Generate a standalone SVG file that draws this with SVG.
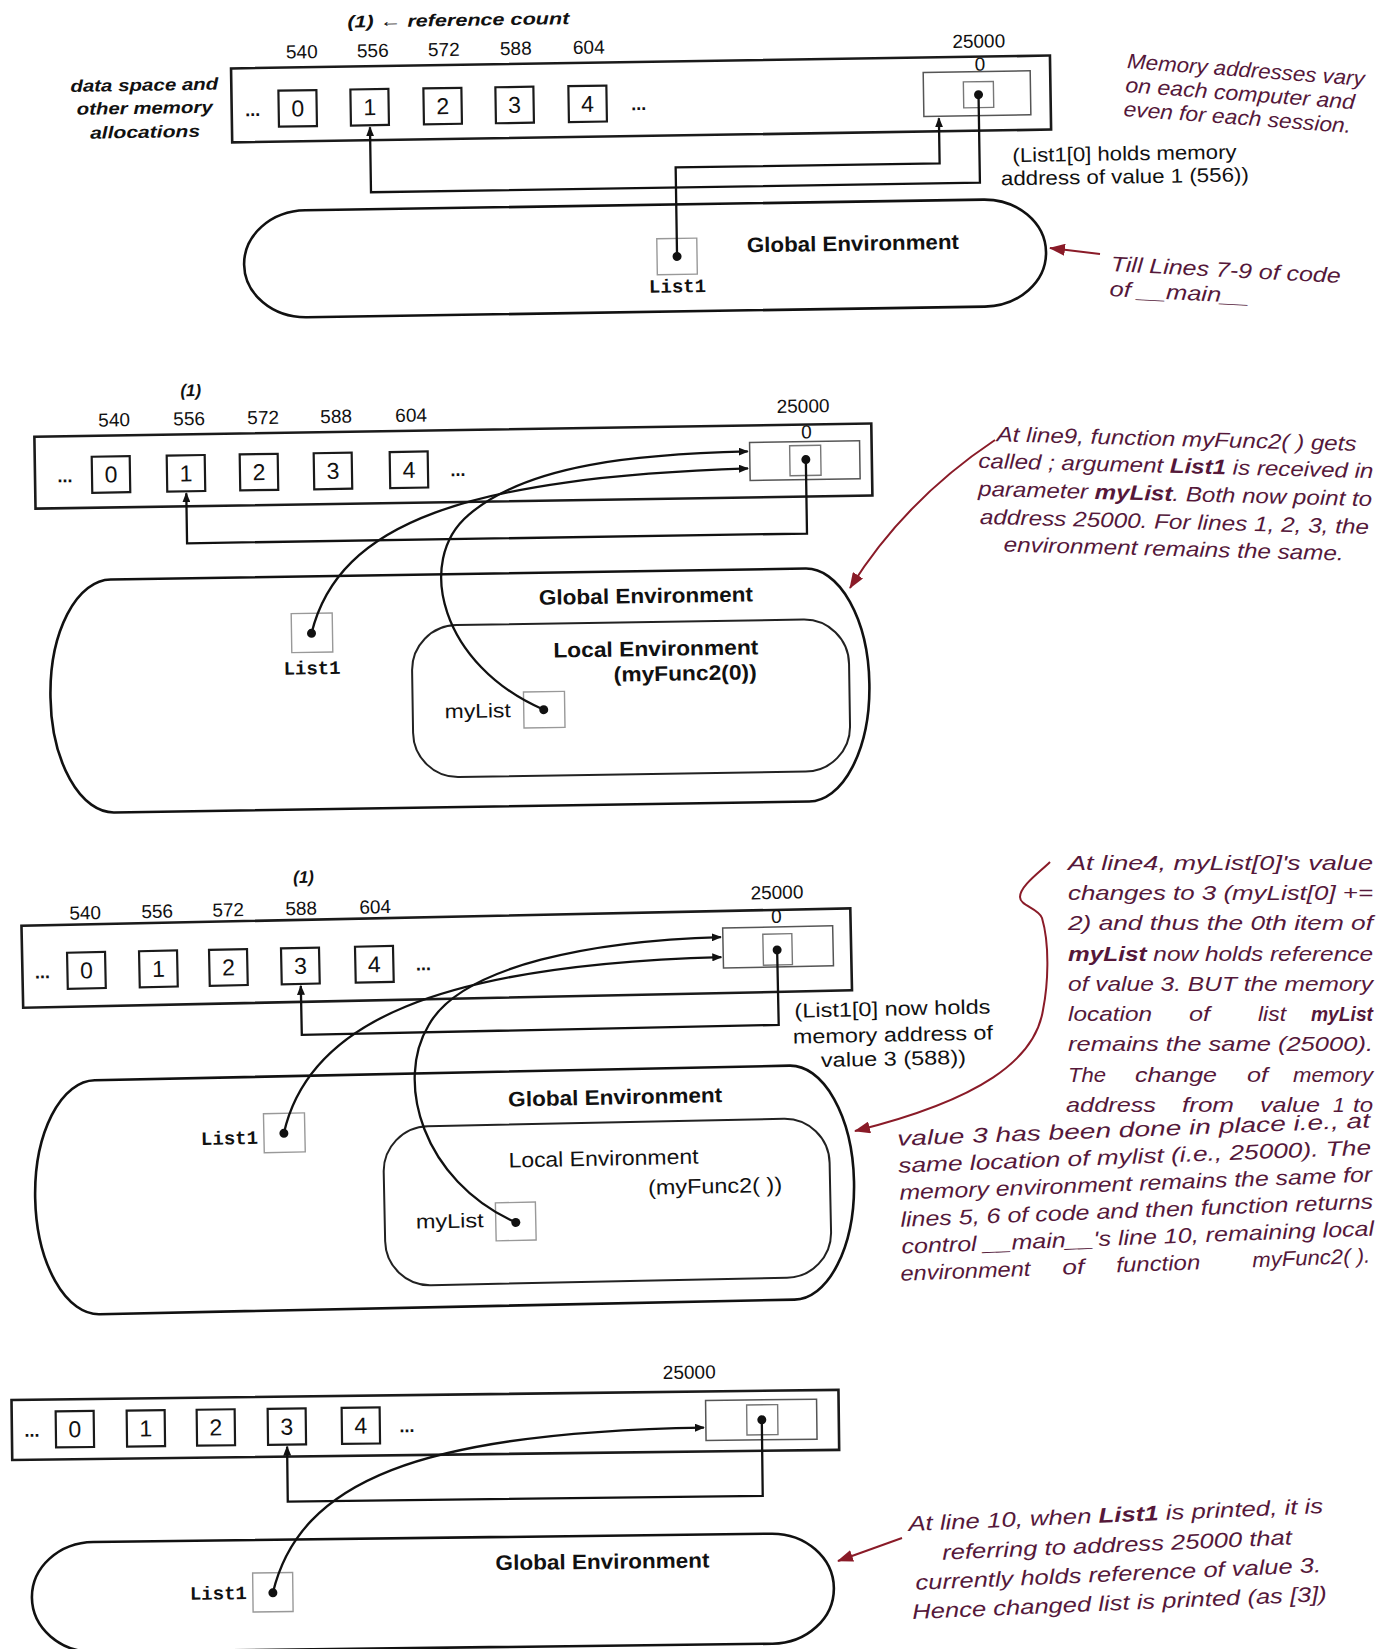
<svg xmlns="http://www.w3.org/2000/svg" width="1384" height="1649" viewBox="0 0 1384 1649">
<style>
.mem{fill:none;stroke:#1a1a1a;stroke-width:2.6}
.cell{fill:none;stroke:#1a1a1a;stroke-width:2.2}
.digit{font-family:"Liberation Sans",Arial,sans-serif;font-size:23px;text-anchor:middle;fill:#111}
.addr{font-family:"Liberation Sans",Arial,sans-serif;font-size:19px;text-anchor:middle;fill:#111}
.dots{font-family:"Liberation Sans",Arial,sans-serif;font-size:18px;font-weight:bold;text-anchor:middle;fill:#111}
.box{fill:none;stroke:#555;stroke-width:1.5}
.ibox{fill:none;stroke:#777;stroke-width:1.4}
.var{fill:none;stroke:#999;stroke-width:1.4}
.env{fill:none;stroke:#111;stroke-width:2.6}
.lenv{fill:none;stroke:#222;stroke-width:2}
.envt{font-family:"Liberation Sans",Arial,sans-serif;font-size:21px;font-weight:bold;text-anchor:middle;fill:#111}
.lenvn{font-family:"Liberation Sans",Arial,sans-serif;font-size:21px;text-anchor:middle;fill:#111}
.mono{font-family:"Liberation Mono","Courier New",monospace;font-size:19px;font-weight:bold;fill:#111}
.lbl{font-family:"Liberation Sans",Arial,sans-serif;font-size:20px;fill:#111}
.side{font-family:"Liberation Sans",Arial,sans-serif;font-size:17px;font-weight:bold;font-style:italic;text-anchor:middle;fill:#111}
.note{font-family:"Liberation Sans",Arial,sans-serif;font-size:21px;font-style:italic;fill:#55183a}
.conn{fill:none;stroke:#111;stroke-width:2.3}
.red{fill:none;stroke:#8a1b28;stroke-width:2}
.dot{fill:#111}
</style>
<defs>
<marker id="ah" markerUnits="userSpaceOnUse" markerWidth="10" markerHeight="8" refX="9" refY="4" orient="auto"><path d="M0,0 L10,4 L0,8 z" fill="#111"/></marker>
<marker id="rh" markerUnits="userSpaceOnUse" markerWidth="16" markerHeight="12" refX="15" refY="6" orient="auto"><path d="M0,0 L16,6 L0,12 z" fill="#8a1b28"/></marker>
</defs>
<rect width="1384" height="1649" fill="#ffffff"/>

<!-- ================= PANEL 1 ================= -->
<g id="p1-memory" transform="rotate(-0.9 640 190)">
  <text class="side" x="461" y="23" font-size="18" textLength="222" lengthAdjust="spacingAndGlyphs">(1) ← reference count</text>
  <text class="side" x="146" y="83" textLength="148" lengthAdjust="spacingAndGlyphs">data space and</text>
  <text class="side" x="146" y="106" textLength="136" lengthAdjust="spacingAndGlyphs">other memory</text>
  <text class="side" x="146" y="130" textLength="110" lengthAdjust="spacingAndGlyphs">allocations</text>
  <rect class="mem" x="233" y="62" width="819" height="74"/>
  <text class="dots" x="254" y="110">...</text>
  <text class="dots" x="640" y="110">...</text>
  <text class="addr" x="304" y="53">540</text><text class="addr" x="375" y="53">556</text><text class="addr" x="446" y="53">572</text><text class="addr" x="518" y="53">588</text><text class="addr" x="591" y="53">604</text>
</g>
<g id="p1-cell-0" transform="rotate(-0.9 640 190)"><rect class="cell" x="280" y="85" width="38" height="36"/><text class="digit" x="299" y="111">0</text></g>
<g id="p1-cell-1" transform="rotate(-0.9 640 190)"><rect class="cell" x="352" y="85" width="38" height="36"/><text class="digit" x="371" y="111">1</text></g>
<g id="p1-cell-2" transform="rotate(-0.9 640 190)"><rect class="cell" x="425" y="85" width="38" height="36"/><text class="digit" x="444" y="111">2</text></g>
<g id="p1-cell-3" transform="rotate(-0.9 640 190)"><rect class="cell" x="497" y="85" width="38" height="36"/><text class="digit" x="516" y="111">3</text></g>
<g id="p1-cell-4" transform="rotate(-0.9 640 190)"><rect class="cell" x="570" y="85" width="38" height="36"/><text class="digit" x="589" y="111">4</text></g>
<g id="p1-list-25000" transform="rotate(-0.9 640 190)">
  <text class="addr" x="981" y="53">25000</text>
  <text class="addr" x="982" y="76" font-size="15">0</text>
  <rect class="box" x="925" y="77" width="107" height="44"/>
  <rect class="ibox" x="965" y="87" width="30" height="26"/>
  <circle class="dot" cx="980" cy="100" r="4.5"/>
  <text class="lbl" x="1125" y="168" text-anchor="middle" textLength="224" lengthAdjust="spacingAndGlyphs">(List1[0] holds memory</text>
  <text class="lbl" x="1125" y="191" text-anchor="middle" textLength="248" lengthAdjust="spacingAndGlyphs">address of value 1 (556))</text>
</g>
<g id="p1-global-env" transform="rotate(-0.9 640 190)">
  <rect class="env" x="243" y="205" width="802" height="107" rx="62" ry="53.5"/>
  <text class="envt" x="852" y="254" textLength="212" lengthAdjust="spacingAndGlyphs">Global Environment</text>
</g>
<g id="p1-var-list1" transform="rotate(-0.9 640 190)">
  <rect class="var" x="656" y="239" width="40" height="36"/>
  <circle class="dot" cx="676" cy="257" r="4.5"/>
  <text class="mono" x="676" y="293" text-anchor="middle">List1</text>
</g>
<g id="p1-notes">
  <g class="note" transform="rotate(4.3 1125 92)">
    <text x="1125" y="68" textLength="238" lengthAdjust="spacingAndGlyphs">Memory addresses vary</text>
    <text x="1125" y="92" textLength="230" lengthAdjust="spacingAndGlyphs">on each computer and</text>
    <text x="1125" y="116" textLength="228" lengthAdjust="spacingAndGlyphs">even for each session.</text>
  </g>
  <g class="note" transform="rotate(3 1110 282)">
    <text x="1110" y="271" textLength="230" lengthAdjust="spacingAndGlyphs">Till Lines 7-9 of code</text>
    <text x="1110" y="296" textLength="140" lengthAdjust="spacingAndGlyphs">of __main__</text>
  </g>
</g>

<!-- ================= PANEL 2 ================= -->
<g id="p2-memory" transform="rotate(-0.9 460 600)">
  <text class="side" x="194" y="392" font-style="normal" font-size="18">(1)</text>
  <rect class="mem" x="37" y="430" width="837" height="72"/>
  <text class="dots" x="67" y="476">...</text>
  <text class="dots" x="460" y="476">...</text>
  <text class="addr" x="117" y="421">540</text><text class="addr" x="192" y="421">556</text><text class="addr" x="266" y="421">572</text><text class="addr" x="339" y="421">588</text><text class="addr" x="414" y="421">604</text>
</g>
<g id="p2-cell-0" transform="rotate(-0.9 460 600)"><rect class="cell" x="94" y="451" width="38" height="36"/><text class="digit" x="113" y="477">0</text></g>
<g id="p2-cell-1" transform="rotate(-0.9 460 600)"><rect class="cell" x="169" y="451" width="38" height="36"/><text class="digit" x="188" y="477">1</text></g>
<g id="p2-cell-2" transform="rotate(-0.9 460 600)"><rect class="cell" x="242" y="451" width="38" height="36"/><text class="digit" x="261" y="477">2</text></g>
<g id="p2-cell-3" transform="rotate(-0.9 460 600)"><rect class="cell" x="316" y="451" width="38" height="36"/><text class="digit" x="335" y="477">3</text></g>
<g id="p2-cell-4" transform="rotate(-0.9 460 600)"><rect class="cell" x="392" y="451" width="38" height="36"/><text class="digit" x="411" y="477">4</text></g>
<g id="p2-list-25000" transform="rotate(-0.9 460 600)">
  <text class="addr" x="806" y="418">25000</text>
  <text class="addr" x="809" y="444" font-size="15">0</text>
  <rect class="box" x="752" y="447" width="110" height="38"/>
  <rect class="ibox" x="792" y="451" width="31" height="30"/>
  <circle class="dot" cx="808" cy="465" r="4.5"/>
</g>
<g id="p2-global-env" transform="rotate(-0.9 460 600)">
  <rect class="env" x="49" y="574" width="819" height="233" rx="62" ry="116"/>
  <text class="envt" x="646" y="606" textLength="214" lengthAdjust="spacingAndGlyphs">Global Environment</text>
</g>
<g id="p2-var-list1" transform="rotate(-0.9 460 600)">
  <rect class="var" x="291" y="611" width="41" height="39"/>
  <circle class="dot" cx="311" cy="631" r="4.5"/>
  <text class="mono" x="311" y="672" text-anchor="middle">List1</text>
</g>
<g id="p2-local-env" transform="rotate(-0.9 460 600)">
  <rect class="lenv" x="411" y="625" width="437" height="152" rx="45" ry="45"/>
  <text class="envt" x="655" y="659" textLength="205" lengthAdjust="spacingAndGlyphs">Local Environment</text>
  <text class="envt" x="684" y="684" textLength="143" lengthAdjust="spacingAndGlyphs">(myFunc2(0))</text>
</g>
<g id="p2-var-mylist" transform="rotate(-0.9 460 600)">
  <text class="lbl" x="509" y="718" text-anchor="end" textLength="66" lengthAdjust="spacingAndGlyphs">myList</text>
  <rect class="var" x="522" y="693" width="41" height="36"/>
  <circle class="dot" cx="542" cy="711" r="4.5"/>
</g>
<g id="p2-notes" class="note" transform="rotate(1.5 1175 500)">
  <text x="1175" y="446" text-anchor="middle" textLength="360" lengthAdjust="spacingAndGlyphs">At line9, function myFunc2( ) gets</text>
  <text x="1175" y="473" text-anchor="middle" textLength="395" lengthAdjust="spacingAndGlyphs">called ; argument <tspan font-weight="bold">List1</tspan> is received in</text>
  <text x="1175" y="501" text-anchor="middle" textLength="394" lengthAdjust="spacingAndGlyphs">parameter <tspan font-weight="bold">myList</tspan>. Both now point to</text>
  <text x="1175" y="529" text-anchor="middle" textLength="389" lengthAdjust="spacingAndGlyphs">address 25000. For lines 1, 2, 3, the</text>
  <text x="1175" y="556" text-anchor="middle" textLength="340" lengthAdjust="spacingAndGlyphs">environment remains the same.</text>
</g>

<!-- ================= PANEL 3 ================= -->
<g id="p3-memory" transform="rotate(-1.2 440 1090)">
  <text class="side" x="308" y="880" font-style="normal" font-size="18">(1)</text>
  <rect class="mem" x="25" y="917" width="829" height="82"/>
  <text class="dots" x="45" y="970">...</text>
  <text class="dots" x="426" y="970">...</text>
  <text class="addr" x="89" y="912">540</text><text class="addr" x="161" y="912">556</text><text class="addr" x="232" y="912">572</text><text class="addr" x="305" y="912">588</text><text class="addr" x="379" y="912">604</text>
</g>
<g id="p3-cell-0" transform="rotate(-1.2 440 1090)"><rect class="cell" x="70" y="945" width="38" height="36"/><text class="digit" x="89" y="971">0</text></g>
<g id="p3-cell-1" transform="rotate(-1.2 440 1090)"><rect class="cell" x="142" y="945" width="38" height="36"/><text class="digit" x="161" y="971">1</text></g>
<g id="p3-cell-2" transform="rotate(-1.2 440 1090)"><rect class="cell" x="212" y="945" width="38" height="36"/><text class="digit" x="231" y="971">2</text></g>
<g id="p3-cell-3" transform="rotate(-1.2 440 1090)"><rect class="cell" x="284" y="945" width="38" height="36"/><text class="digit" x="303" y="971">3</text></g>
<g id="p3-cell-4" transform="rotate(-1.2 440 1090)"><rect class="cell" x="358" y="945" width="38" height="36"/><text class="digit" x="377" y="971">4</text></g>
<g id="p3-list-25000" transform="rotate(-1.2 440 1090)">
  <text class="addr" x="781" y="906">25000</text>
  <text class="addr" x="780" y="930" font-size="15">0</text>
  <rect class="box" x="726" y="934" width="110" height="40"/>
  <rect class="ibox" x="766" y="941" width="29" height="31"/>
  <circle class="dot" cx="780" cy="957" r="4.5"/>
  <text class="lbl" x="894" y="1025" text-anchor="middle" textLength="196" lengthAdjust="spacingAndGlyphs">(List1[0] now holds</text>
  <text class="lbl" x="894" y="1051" text-anchor="middle" textLength="200" lengthAdjust="spacingAndGlyphs">memory address of</text>
  <text class="lbl" x="894" y="1075" text-anchor="middle" textLength="145" lengthAdjust="spacingAndGlyphs">value 3 (588))</text>
</g>
<g id="p3-global-env" transform="rotate(-1.2 440 1090)">
  <rect class="env" x="33" y="1073" width="819" height="234" rx="62" ry="117"/>
  <text class="envt" x="615" y="1108" textLength="214" lengthAdjust="spacingAndGlyphs">Global Environment</text>
</g>
<g id="p3-var-list1" transform="rotate(-1.2 440 1090)">
  <text class="mono" x="257" y="1140" text-anchor="end">List1</text>
  <rect class="var" x="263" y="1110" width="41" height="39"/>
  <circle class="dot" cx="283" cy="1130" r="4.5"/>
</g>
<g id="p3-local-env" transform="rotate(-1.2 440 1090)">
  <rect class="lenv" x="382" y="1126" width="446" height="159" rx="45" ry="45"/>
  <text class="lenvn" x="602" y="1169" textLength="190" lengthAdjust="spacingAndGlyphs">Local Environment</text>
  <text class="lenvn" x="713" y="1199" textLength="134" lengthAdjust="spacingAndGlyphs">(myFunc2( ))</text>
</g>
<g id="p3-var-mylist" transform="rotate(-1.2 440 1090)">
  <text class="lbl" x="481" y="1228" text-anchor="end" textLength="68" lengthAdjust="spacingAndGlyphs">myList</text>
  <rect class="var" x="493" y="1204" width="40" height="38"/>
  <circle class="dot" cx="513" cy="1224" r="4.5"/>
</g>
<g id="p3-notes" class="note">
  <text x="1068" y="870" textLength="305" lengthAdjust="spacingAndGlyphs">At line4, myList[0]'s value</text>
  <text x="1068" y="900" textLength="305" lengthAdjust="spacingAndGlyphs">changes to 3 (myList[0] +=</text>
  <text x="1068" y="930" textLength="305" lengthAdjust="spacingAndGlyphs">2) and thus the 0th item of</text>
  <text x="1068" y="961" textLength="305" lengthAdjust="spacingAndGlyphs"><tspan font-weight="bold">myList</tspan> now holds reference</text>
  <text x="1068" y="991" textLength="305" lengthAdjust="spacingAndGlyphs">of value 3. BUT the memory</text>
  <text x="1068" y="1021" textLength="84" lengthAdjust="spacingAndGlyphs">location</text><text x="1189" y="1021" textLength="21" lengthAdjust="spacingAndGlyphs">of</text><text x="1258" y="1021" textLength="28" lengthAdjust="spacingAndGlyphs">list</text><text x="1311" y="1021" textLength="62" lengthAdjust="spacingAndGlyphs" font-weight="bold">myList</text>
  <text x="1068" y="1051" textLength="305" lengthAdjust="spacingAndGlyphs">remains the same (25000).</text>
  <text x="1068" y="1082" textLength="38" lengthAdjust="spacingAndGlyphs">The</text><text x="1135" y="1082" textLength="82" lengthAdjust="spacingAndGlyphs">change</text><text x="1247" y="1082" textLength="21" lengthAdjust="spacingAndGlyphs">of</text><text x="1293" y="1082" textLength="80" lengthAdjust="spacingAndGlyphs">memory</text>
  <text x="1066" y="1112" textLength="90" lengthAdjust="spacingAndGlyphs">address</text><text x="1182" y="1112" textLength="52" lengthAdjust="spacingAndGlyphs">from</text><text x="1260" y="1112" textLength="60" lengthAdjust="spacingAndGlyphs">value</text><text x="1333" y="1112">1</text><text x="1353" y="1112" textLength="20" lengthAdjust="spacingAndGlyphs">to</text>
  <g transform="rotate(-2.2 1125 1205)">
    <text x="900" y="1137" textLength="473" lengthAdjust="spacingAndGlyphs">value 3 has been done in place i.e., at</text>
    <text x="900" y="1164" textLength="473" lengthAdjust="spacingAndGlyphs">same location of mylist (i.e., 25000). The</text>
    <text x="900" y="1191" textLength="473" lengthAdjust="spacingAndGlyphs">memory environment remains the same for</text>
    <text x="900" y="1218" textLength="473" lengthAdjust="spacingAndGlyphs">lines 5, 6 of code and then function returns</text>
    <text x="900" y="1245" textLength="473" lengthAdjust="spacingAndGlyphs">control __main__'s line 10, remaining local</text>
    <text x="898" y="1272" textLength="130" lengthAdjust="spacingAndGlyphs">environment</text><text x="1060" y="1272" textLength="22" lengthAdjust="spacingAndGlyphs">of</text><text x="1114" y="1272" textLength="84" lengthAdjust="spacingAndGlyphs">function</text><text x="1250" y="1272" textLength="118" lengthAdjust="spacingAndGlyphs">myFunc2( ).</text>
  </g>
</g>

<!-- ================= PANEL 4 ================= -->
<g id="p4-memory" transform="rotate(-0.7 420 1520)">
  <rect class="mem" x="13" y="1395" width="827" height="60"/>
  <text class="dots" x="33" y="1432">...</text>
  <text class="dots" x="408" y="1432">...</text>
</g>
<g id="p4-cell-0" transform="rotate(-0.7 420 1520)"><rect class="cell" x="57" y="1407" width="38" height="36"/><text class="digit" x="76" y="1433">0</text></g>
<g id="p4-cell-1" transform="rotate(-0.7 420 1520)"><rect class="cell" x="128" y="1407" width="38" height="36"/><text class="digit" x="147" y="1433">1</text></g>
<g id="p4-cell-2" transform="rotate(-0.7 420 1520)"><rect class="cell" x="198" y="1407" width="38" height="36"/><text class="digit" x="217" y="1433">2</text></g>
<g id="p4-cell-3" transform="rotate(-0.7 420 1520)"><rect class="cell" x="269" y="1407" width="38" height="36"/><text class="digit" x="288" y="1433">3</text></g>
<g id="p4-cell-4" transform="rotate(-0.7 420 1520)"><rect class="cell" x="343" y="1407" width="38" height="36"/><text class="digit" x="362" y="1433">4</text></g>
<g id="p4-list-25000" transform="rotate(-0.7 420 1520)">
  <text class="addr" x="691" y="1382">25000</text>
  <rect class="box" x="707" y="1404" width="111" height="40"/>
  <rect class="ibox" x="748" y="1409" width="31" height="30"/>
  <circle class="dot" cx="763" cy="1424" r="4.5"/>
</g>
<g id="p4-global-env" transform="rotate(-0.7 420 1520)">
  <rect class="env" x="31" y="1538" width="802" height="110" rx="62" ry="55"/>
  <text class="envt" x="602" y="1571" textLength="214" lengthAdjust="spacingAndGlyphs">Global Environment</text>
</g>
<g id="p4-var-list1" transform="rotate(-0.7 420 1520)">
  <text class="mono" x="246" y="1597" text-anchor="end">List1</text>
  <rect class="var" x="252" y="1571" width="40" height="39"/>
  <circle class="dot" cx="272" cy="1591" r="4.5"/>
</g>
<g id="p4-notes" class="note" transform="rotate(-2.5 1118 1568)">
  <text x="1118" y="1522" text-anchor="middle" textLength="415" lengthAdjust="spacingAndGlyphs">At line 10, when <tspan font-weight="bold">List1</tspan> is printed, it is</text>
  <text x="1118" y="1552" text-anchor="middle" textLength="350" lengthAdjust="spacingAndGlyphs">referring to address 25000 that</text>
  <text x="1118" y="1581" text-anchor="middle" textLength="406" lengthAdjust="spacingAndGlyphs">currently holds reference of value 3.</text>
  <text x="1118" y="1610" text-anchor="middle" textLength="415" lengthAdjust="spacingAndGlyphs">Hence changed list is printed (as [3])</text>
</g>

<!-- ================= CONNECTORS ================= -->
<g id="connectors">
  <g transform="rotate(-0.9 640 190)">
    <path class="conn" d="M980,100 V188 H371 V123" marker-end="url(#ah)"/>
    <path class="conn" d="M676,257 V168 H940 V123" marker-end="url(#ah)"/>
  </g>
  <g transform="rotate(-0.9 460 600)">
    <path class="conn" d="M808,465 V539 H188 V489" marker-end="url(#ah)"/>
    <path class="conn" d="M311,631 C340,520 470,478 750,473" marker-end="url(#ah)"/>
    <path class="conn" d="M542,711 C440,665 415,560 470,515 C530,465 640,457 750,456" marker-end="url(#ah)"/>
  </g>
  <g transform="rotate(-1.2 440 1090)">
    <path class="conn" d="M780,957 V1032 H303 V983" marker-end="url(#ah)"/>
    <path class="conn" d="M283,1130 C310,1020 440,965 724,963" marker-end="url(#ah)"/>
    <path class="conn" d="M513,1224 C420,1180 395,1080 430,1025 C465,965 600,944 724,943" marker-end="url(#ah)"/>
  </g>
  <g transform="rotate(-0.7 420 1520)">
    <path class="conn" d="M763,1424 V1500 H288 V1445" marker-end="url(#ah)"/>
    <path class="conn" d="M272,1591 C300,1480 420,1432 705,1431" marker-end="url(#ah)"/>
  </g>
  <path class="red" d="M1100,254 L1050,248" marker-end="url(#rh)"/>
  <path class="red" d="M995,440 Q905,500 850,588" marker-end="url(#rh)"/>
  <path class="red" d="M1050,862 C1040,872 1020,886 1020,897 C1020,906 1038,908 1042,918 C1050,945 1048,985 1043,1010 C1035,1060 980,1100 855,1131" marker-end="url(#rh)"/>
  <path class="red" d="M902,1538 L838,1561" marker-end="url(#rh)"/>
</g>
</svg>
